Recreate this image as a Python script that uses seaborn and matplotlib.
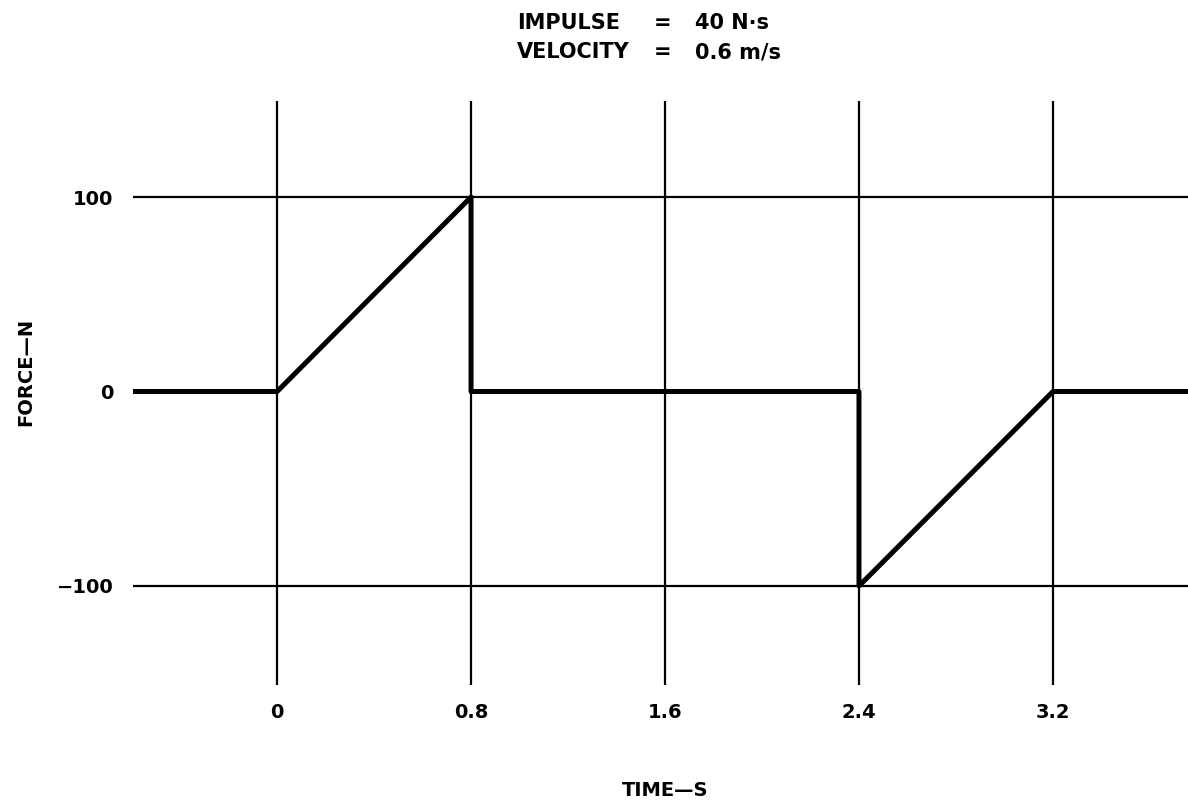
import numpy as np
import pandas as pd
import matplotlib
matplotlib.use("Agg")
import matplotlib.pyplot as plt
import seaborn as sns

# Force pulse data
time_s = [-0.594, 0.0, 0.8, 0.8, 2.4, 2.4, 3.2, 3.757]
force_n = [0, 0, 100, 0, 0, -100, 0, 0]
x_ticks = [0, 0.8, 1.6, 2.4, 3.2]
x_tick_labels = ["0", "0.8", "1.6", "2.4", "3.2"]
y_ticks = [-100, 0, 100]
y_tick_labels = ["\u2212100", "0", "100"]
grid_levels = [-100, 100]

df = pd.DataFrame({"time": time_s, "force": force_n})

sns.set_theme(style="white")
plt.rcParams["font.family"] = ["DejaVu Sans"]
plt.rcParams["font.weight"] = "bold"
plt.rcParams["text.color"] = "black"
plt.rcParams["xtick.color"] = "black"
plt.rcParams["ytick.color"] = "black"

fig = plt.figure(figsize=(11.88, 8.05), dpi=100)
ax = fig.add_axes([0.112, 0.1491, 0.888, 0.7255])

# grid: vertical lines at every time tick, horizontal only at +/-100
ax.set_xticks(x_ticks)
ax.set_xticklabels([])
ax.grid(True, axis="x", color="black", linewidth=1.6)
ax.grid(False, axis="y")
for lvl in grid_levels:
    ax.axhline(lvl, color="black", linewidth=1.6, zorder=1)

sns.lineplot(data=df, x="time", y="force", sort=False, color="black",
             linewidth=3.6, ax=ax, estimator=None, zorder=3)

ax.set_xlim(-0.594, 3.757)
ax.set_ylim(-150.9, 149.4)

ax.set_yticks(y_ticks)
ax.set_yticklabels(y_tick_labels, fontsize=14, fontweight="bold", color="black")
ax.tick_params(axis="both", length=0)
ax.tick_params(axis="y", pad=14)
ax.set_axisbelow(True)
for s in ax.spines.values():
    s.set_visible(False)

# x tick labels sit just below the ends of the vertical lines
for xt, lab in zip(x_ticks, x_tick_labels):
    ax.text(xt, -165.3, lab, ha="center", va="center", fontsize=14,
            fontweight="bold", color="black", clip_on=False)

ax.set_xlabel("")
ax.set_ylabel("")
fig.text(26 / 1188, 1 - 372 / 805, "FORCE\u2014N", rotation=90, ha="center",
         va="center", fontsize=14, fontweight="bold", color="black")
fig.text(665 / 1188, 1 - 790 / 805, "TIME\u2014S", ha="center", va="center",
         fontsize=14, fontweight="bold", color="black")

# header
for y_px, name, val in [(23, "IMPULSE", "40 N\u00b7s"), (52, "VELOCITY", "0.6 m/s")]:
    fig.text(517 / 1188, 1 - y_px / 805, name, ha="left", va="center",
             fontsize=15, fontweight="bold", color="black")
    fig.text(663 / 1188, 1 - y_px / 805, "=", ha="center", va="center",
             fontsize=15, fontweight="bold", color="black")
    fig.text(695 / 1188, 1 - y_px / 805, val, ha="left", va="center",
             fontsize=15, fontweight="bold", color="black")

fig.savefig("out.png", dpi=100, facecolor="white")
